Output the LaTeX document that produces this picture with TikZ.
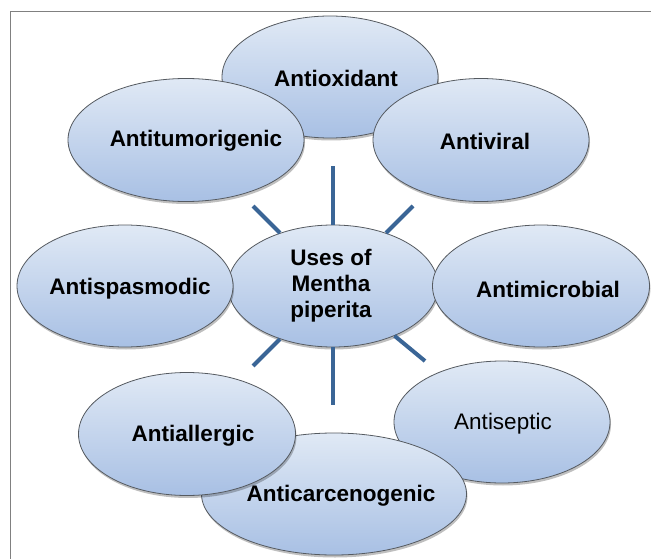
\documentclass[tikz,border=0pt]{standalone}
\usepackage{fontspec}
\setmainfont{Liberation Sans}
\usetikzlibrary{shapes.geometric,shadows}
\definecolor{ellTop}{HTML}{E0E9F5}
\definecolor{ellBot}{HTML}{A8C0E4}
\definecolor{ellLine}{HTML}{555A60}
\definecolor{spoke}{HTML}{3A6596}
\definecolor{frameGray}{HTML}{808080}
\tikzset{
  bubble/.style={ellipse, draw=ellLine, line width=0.8pt, top color=ellTop, bottom color=ellBot,
    inner sep=0pt, drop shadow={shadow xshift=1pt, shadow yshift=-2.5pt, fill=black, opacity=0.25}},
  txt/.style={font=\fontsize{22.5}{26}\selectfont\bfseries, text=black, inner sep=0pt, align=center},
  txtreg/.style={font=\fontsize{22.5}{26}\selectfont, text=black, inner sep=0pt, align=center},
  spokeline/.style={draw=spoke, line width=4pt}
}
\begin{document}
\begin{tikzpicture}[x=1pt,y=-1pt]
\useasboundingbox (0,0) rectangle (651,559);
\fill[white] (0,0) rectangle (651,559);
\draw[frameGray, line width=1.5pt] (10.7,560) -- (10.7,11.7) -- (652,11.7);

% centre
\node[bubble, minimum width=210pt, minimum height=122pt] (c) at (333,286) {};
\node[txt] (ct) at (331,286) {Uses of\\Mentha\\piperita};

% spokes
\coordinate (s1) at (333,166);
\coordinate (s2) at (413,206);
\coordinate (s3) at (425,361);
\coordinate (s4) at (333,405);
\coordinate (s5) at (253,366);
\coordinate (s6) at (253,206);
\draw[spokeline] (c.north) -- (s1);
\draw[spokeline] (c.45) -- (s2);
\draw[spokeline] (c.-39) -- (s3);
\draw[spokeline] (c.south) -- (s4);
\draw[spokeline] (c.225) -- (s5);
\draw[spokeline] (c.135) -- (s6);

% outer bubbles in stacking order
\node[bubble, minimum width=216pt, minimum height=122pt] (ox) at (330,77) {};
\node[txt] (oxt) at (336,78) {Antioxidant};

\node[bubble, minimum width=216pt, minimum height=123pt] (vi) at (481,140) {};
\node[txt] (vit) at (485,141) {Antiviral};

\node[bubble, minimum width=217pt, minimum height=122pt] (mi) at (541,286) {};
\node[txt] (mit) at (548,289) {Antimicrobial};

\node[bubble, minimum width=216pt, minimum height=122pt] (se) at (502,422) {};
\node[txtreg] (set) at (503,424) {Antiseptic};

\node[bubble, minimum width=265pt, minimum height=122pt] (ca) at (334,494) {};
\node[txt] (cat) at (341,496) {Anticarcenogenic};

\node[bubble, minimum width=217pt, minimum height=123pt] (al) at (187,434) {};
\node[txt] (alt) at (193,436) {Antiallergic};

\node[bubble, minimum width=216pt, minimum height=122pt] (sp) at (125,286) {};
\node[txt] (spt) at (130,289) {Antispasmodic};

\node[bubble, minimum width=236pt, minimum height=123pt] (tu) at (186,140) {};
\node[txt] (tut) at (196,141) {Antitumorigenic};
\end{tikzpicture}
\end{document}
